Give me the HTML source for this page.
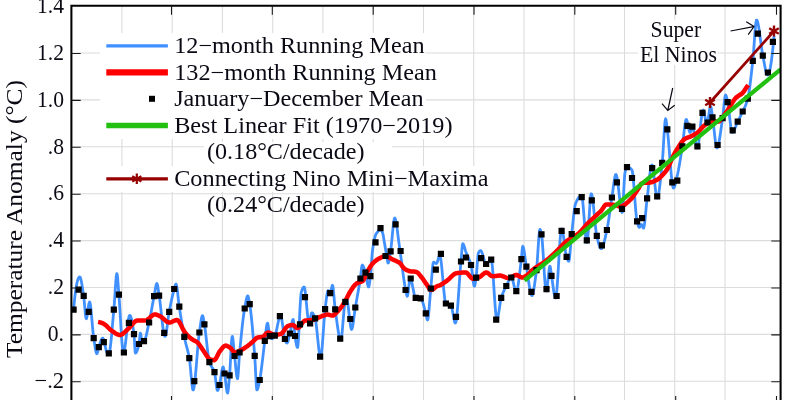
<!DOCTYPE html><html><head><meta charset="utf-8"><title>Global Temperature</title>
<style>html,body{margin:0;padding:0;background:#fff}svg{display:block}text{font-family:"Liberation Serif",serif;fill:#0a0a14}</style></head><body>
<svg width="800" height="400" viewBox="0 0 800 400">
<rect width="800" height="400" fill="#fff"/>
<path d="M121.9,5.75V400M172.2,5.75V400M222.4,5.75V400M272.7,5.75V400M322.9,5.75V400M373.2,5.75V400M423.5,5.75V400M473.7,5.75V400M524.0,5.75V400M574.2,5.75V400M624.5,5.75V400M674.7,5.75V400M725.0,5.75V400M71.4,53.0H780.6M71.4,99.9H780.6M71.4,146.8H780.6M71.4,193.7H780.6M71.4,240.6H780.6M71.4,287.5H780.6M71.4,334.4H780.6M71.4,381.2H780.6" stroke="#dcdcdc" stroke-width="1.1" fill="none"/>
<clipPath id="c"><rect x="71.4" y="5.75" width="709.2" height="400"/></clipPath>
<g clip-path="url(#c)">
<polyline points="73.6,309.6 74.0,305.2 74.4,301.1 74.8,297.4 75.2,294.0 75.6,291.0 76.0,288.3 76.4,285.9 76.8,283.8 77.2,282.0 77.6,280.5 78.0,279.2 78.4,278.3 78.8,277.6 79.2,277.1 79.6,276.9 80.0,277.0 80.4,277.7 80.8,279.0 81.2,280.6 81.6,282.7 82.0,285.0 82.4,287.5 82.8,290.2 83.2,292.9 83.6,295.5 84.0,298.6 84.4,302.8 84.8,307.6 85.2,312.1 85.6,315.9 86.0,318.3 86.4,318.7 86.8,317.5 87.2,315.5 87.6,312.7 88.0,309.8 88.4,306.8 88.8,304.3 89.2,302.6 89.6,301.9 90.0,302.6 90.4,304.7 90.8,307.8 91.2,311.6 91.6,316.1 92.0,320.8 92.4,325.5 92.8,330.0 93.2,334.0 93.6,337.3 94.0,339.9 94.4,342.5 94.8,345.2 95.2,347.7 95.6,350.0 96.0,351.8 96.4,353.1 96.8,353.7 97.2,353.4 97.6,352.1 98.0,350.3 98.4,348.4 98.8,347.0 99.2,345.8 99.6,344.6 100.0,343.3 100.4,342.2 100.8,341.1 101.2,340.1 101.6,339.2 102.0,338.6 102.4,338.2 102.8,338.1 103.2,338.5 103.6,339.4 104.0,340.7 104.4,342.3 104.8,344.1 105.2,346.0 105.6,347.9 106.0,349.6 106.4,351.2 106.8,352.3 107.2,353.1 107.6,353.3 108.0,353.4 108.4,353.4 108.8,353.4 109.2,353.0 109.6,351.6 110.0,349.5 110.4,346.6 110.8,343.2 111.2,339.3 111.6,335.1 112.0,330.6 112.4,326.0 112.8,321.3 113.2,316.7 113.6,312.3 114.0,308.1 114.4,302.9 114.8,296.8 115.2,290.5 115.6,284.4 116.0,279.2 116.4,275.4 116.8,273.6 117.2,274.4 117.6,277.7 118.0,282.8 118.4,288.4 118.8,293.8 119.2,298.8 119.6,304.6 120.0,311.0 120.4,317.7 120.8,324.5 121.2,331.1 121.6,337.3 122.0,342.8 122.4,347.3 122.8,350.5 123.2,352.3 123.6,352.4 124.0,351.6 124.4,350.0 124.8,347.9 125.2,345.2 125.6,342.2 126.0,338.9 126.4,335.4 126.8,331.9 127.2,328.5 127.6,325.2 128.0,322.2 128.4,319.6 128.8,317.5 129.2,316.1 129.6,315.4 130.0,315.4 130.4,315.9 130.8,316.8 131.2,318.1 131.6,319.7 132.0,321.6 132.4,323.7 132.8,326.1 133.2,328.7 133.6,331.4 134.0,334.3 134.4,339.7 134.8,346.9 135.2,352.3 135.6,353.1 136.0,352.8 136.4,352.2 136.8,351.4 137.2,350.4 137.6,349.2 138.0,347.9 138.4,346.4 138.8,344.8 139.2,342.8 139.6,338.9 140.0,334.9 140.4,333.1 140.8,334.3 141.2,337.1 141.6,340.1 142.0,341.8 142.4,341.9 142.8,341.8 143.2,341.7 143.6,341.5 144.0,341.3 144.4,340.9 144.8,340.2 145.2,339.2 145.6,338.0 146.0,336.5 146.4,334.9 146.8,333.1 147.2,331.3 147.6,329.4 148.0,327.4 148.4,325.5 148.8,323.7 149.2,321.9 149.6,320.1 150.0,318.1 150.4,316.1 150.8,313.9 151.2,311.8 151.6,309.6 152.0,307.4 152.4,305.1 152.8,302.9 153.2,300.8 153.6,298.7 154.0,296.7 154.4,294.7 154.8,292.3 155.2,289.9 155.6,287.6 156.0,285.7 156.4,284.2 156.8,283.5 157.2,283.9 157.6,285.4 158.0,287.8 158.4,290.6 158.8,293.5 159.2,296.0 159.6,298.7 160.0,301.8 160.4,305.2 160.8,308.8 161.2,312.5 161.6,316.2 162.0,319.9 162.4,323.4 162.8,326.7 163.2,329.6 163.6,332.2 164.0,334.2 164.4,335.6 164.8,336.4 165.2,336.4 165.6,335.5 166.0,333.9 166.4,331.7 166.8,329.0 167.2,326.1 167.6,323.0 168.0,319.9 168.4,316.9 168.8,314.1 169.2,311.8 169.6,309.8 170.0,307.7 170.4,305.7 170.8,303.7 171.2,301.7 171.6,299.8 172.0,297.9 172.4,296.1 172.8,294.4 173.2,292.8 173.6,291.2 174.0,289.8 174.4,288.4 174.8,286.9 175.2,285.5 175.6,284.4 176.0,284.0 176.4,284.7 176.8,286.5 177.2,289.2 177.6,292.4 178.0,296.1 178.4,299.8 178.8,303.2 179.2,306.3 179.6,308.9 180.0,311.5 180.4,314.1 180.8,316.6 181.2,319.2 181.6,321.7 182.0,324.1 182.4,326.5 182.8,328.9 183.2,331.2 183.6,333.4 184.0,335.5 184.4,337.5 184.8,339.3 185.2,341.0 185.6,342.6 186.0,344.2 186.4,345.6 186.8,347.1 187.2,348.6 187.6,350.1 188.0,351.8 188.4,353.5 188.8,355.4 189.2,357.6 189.6,360.1 190.0,363.6 190.4,367.7 190.8,372.2 191.2,376.7 191.6,381.0 192.0,384.8 192.4,387.7 192.8,389.6 193.2,390.0 193.6,389.2 194.0,387.5 194.4,385.0 194.8,381.8 195.2,378.1 195.6,373.9 196.0,369.3 196.4,364.5 196.8,359.5 197.2,354.6 197.6,349.7 198.0,345.1 198.4,340.8 198.8,337.0 199.2,333.7 199.6,331.0 200.0,328.1 200.4,325.2 200.8,322.4 201.2,319.9 201.6,317.8 202.0,316.3 202.4,315.6 202.8,316.0 203.2,317.4 203.6,319.5 204.0,322.0 204.4,324.4 204.8,326.8 205.2,329.7 205.6,332.9 206.0,336.4 206.4,340.0 206.8,343.6 207.2,347.2 207.6,350.7 208.0,353.9 208.4,356.8 208.8,359.3 209.2,361.2 209.6,362.6 210.0,363.7 210.4,364.6 210.8,365.4 211.2,366.1 211.6,366.7 212.0,367.3 212.4,367.8 212.8,368.5 213.2,369.2 213.6,370.0 214.0,370.9 214.4,372.0 214.8,373.7 215.2,376.3 215.6,379.4 216.0,382.8 216.4,385.9 216.8,388.5 217.2,390.2 217.6,390.6 218.0,390.1 218.4,389.0 218.8,387.6 219.2,386.1 219.6,384.6 220.0,382.7 220.4,380.4 220.8,377.8 221.2,375.0 221.6,372.4 222.0,370.1 222.4,368.3 222.8,367.2 223.2,367.0 223.6,368.2 224.0,370.3 224.4,372.8 224.8,375.1 225.2,378.0 225.6,381.4 226.0,384.8 226.4,388.0 226.8,390.6 227.2,392.4 227.6,393.1 228.0,391.9 228.4,388.8 228.8,384.5 229.2,379.6 229.6,375.0 230.0,369.2 230.4,362.0 230.8,354.2 231.2,346.7 231.6,340.7 232.0,337.0 232.4,336.4 232.8,338.2 233.2,341.5 233.6,345.7 234.0,350.2 234.4,354.3 234.8,357.8 235.2,361.7 235.6,365.8 236.0,369.9 236.4,373.5 236.8,376.5 237.2,378.3 237.6,378.6 238.0,376.0 238.4,370.9 238.8,364.5 239.2,358.1 239.6,352.7 240.0,348.6 240.4,344.4 240.8,340.3 241.2,336.3 241.6,332.4 242.0,328.6 242.4,324.9 242.8,321.5 243.2,318.2 243.6,315.2 244.0,312.4 244.4,309.9 244.8,307.7 245.2,305.5 245.6,303.2 246.0,301.1 246.4,299.2 246.8,297.6 247.2,296.5 247.6,295.9 248.0,296.1 248.4,297.2 248.8,299.0 249.2,301.3 249.6,303.6 250.0,306.0 250.4,308.8 250.8,312.0 251.2,315.5 251.6,319.3 252.0,323.4 252.4,327.7 252.8,332.3 253.2,337.0 253.6,341.9 254.0,346.8 254.4,351.9 254.8,357.0 255.2,363.9 255.6,372.1 256.0,380.2 256.4,386.6 256.8,389.8 257.2,389.8 257.6,389.1 258.0,387.9 258.4,386.4 258.8,384.6 259.2,382.7 259.6,380.7 260.0,378.7 260.4,376.3 260.8,373.5 261.2,370.5 261.6,367.3 262.0,364.0 262.4,360.8 262.8,357.6 263.2,354.2 263.6,350.7 264.0,347.2 264.4,343.8 264.8,340.7 265.2,337.5 265.6,334.1 266.0,330.6 266.4,327.5 266.8,325.0 267.2,323.5 267.6,323.2 268.0,324.5 268.4,327.1 268.8,330.3 269.2,333.3 269.6,335.6 270.0,336.6 270.4,337.3 270.8,337.9 271.2,338.4 271.6,338.7 272.0,338.7 272.4,338.6 272.8,338.3 273.2,337.9 273.6,337.5 274.0,336.9 274.4,336.3 274.8,335.7 275.2,334.9 275.6,333.8 276.0,332.3 276.4,330.7 276.8,328.9 277.2,327.0 277.6,325.0 278.0,323.1 278.4,321.3 278.8,319.6 279.2,318.1 279.6,316.9 280.0,316.0 280.4,315.6 280.8,315.6 281.2,316.5 281.6,318.2 282.0,320.5 282.4,323.2 282.8,326.1 283.2,329.1 283.6,332.1 284.0,334.7 284.4,337.0 284.8,338.7 285.2,339.9 285.6,341.0 286.0,342.0 286.4,342.7 286.8,343.1 287.2,342.9 287.6,342.3 288.0,341.2 288.4,339.8 288.8,338.2 289.2,336.5 289.6,334.8 290.0,333.2 290.4,331.4 290.8,329.2 291.2,326.9 291.6,324.5 292.0,322.4 292.4,320.7 292.8,319.7 293.2,319.5 293.6,321.7 294.0,325.9 294.4,330.7 294.8,334.8 295.2,337.5 295.6,340.0 296.0,342.4 296.4,344.5 296.8,346.2 297.2,347.2 297.6,347.4 298.0,345.0 298.4,340.1 298.8,333.2 299.2,325.2 299.6,316.8 300.0,308.6 300.4,301.4 300.8,295.9 301.2,292.7 301.6,291.4 302.0,290.2 302.4,289.1 302.8,288.3 303.2,287.6 303.6,287.1 304.0,286.9 304.4,287.3 304.8,288.9 305.2,291.5 305.6,294.9 306.0,298.8 306.4,303.1 306.8,307.4 307.2,311.6 307.6,315.4 308.0,318.7 308.4,321.0 308.8,322.3 309.2,322.4 309.6,321.4 310.0,319.8 310.4,317.9 310.8,315.9 311.2,314.2 311.6,313.0 312.0,312.8 312.4,312.9 312.8,313.4 313.2,314.0 313.6,314.7 314.0,315.6 314.4,316.6 314.8,317.6 315.2,318.7 315.6,320.5 316.0,323.0 316.4,326.0 316.8,329.6 317.2,333.4 317.6,337.4 318.0,341.4 318.4,345.2 318.8,348.8 319.2,351.9 319.6,354.5 320.0,356.4 320.4,357.4 320.8,357.3 321.2,355.7 321.6,352.8 322.0,348.9 322.4,344.1 322.8,338.8 323.2,333.1 323.6,327.3 324.0,321.8 324.4,316.7 324.8,312.2 325.2,308.7 325.6,305.4 326.0,302.0 326.4,298.7 326.8,295.7 327.2,293.2 327.6,291.5 328.0,290.6 328.4,290.7 328.8,291.3 329.2,292.0 329.6,292.6 330.0,293.0 330.4,292.9 330.8,291.7 331.2,289.9 331.6,287.9 332.0,286.2 332.4,285.3 332.8,285.9 333.2,288.3 333.6,292.1 334.0,296.7 334.4,301.4 334.8,305.8 335.2,309.3 335.6,312.2 336.0,315.1 336.4,318.1 336.8,321.1 337.2,324.0 337.6,326.8 338.0,329.5 338.4,332.0 338.8,334.3 339.2,336.2 339.6,337.8 340.0,339.0 340.4,339.7 340.8,340.0 341.2,339.2 341.6,337.0 342.0,333.6 342.4,329.4 342.8,324.7 343.2,319.7 343.6,314.9 344.0,310.4 344.4,306.5 344.8,303.6 345.2,302.0 345.6,301.4 346.0,301.0 346.4,300.6 346.8,300.5 347.2,301.1 347.6,302.6 348.0,305.0 348.4,308.0 348.8,311.4 349.2,315.0 349.6,318.5 350.0,321.9 350.4,324.9 350.8,327.3 351.2,328.8 351.6,329.4 352.0,328.9 352.4,327.6 352.8,325.6 353.2,323.1 353.6,320.2 354.0,317.1 354.4,314.0 354.8,311.0 355.2,308.3 355.6,306.0 356.0,303.7 356.4,301.5 356.8,299.2 357.2,297.0 357.6,294.8 358.0,292.6 358.4,290.3 358.8,288.1 359.2,285.7 359.6,283.3 360.0,280.8 360.4,278.3 360.8,275.0 361.2,271.2 361.6,267.8 362.0,265.5 362.4,265.0 362.8,265.4 363.2,266.1 363.6,267.0 364.0,268.2 364.4,269.4 364.8,270.8 365.2,272.1 365.6,273.5 366.0,275.3 366.4,277.6 366.8,280.0 367.2,282.3 367.6,284.4 368.0,286.0 368.4,286.9 368.8,286.8 369.2,285.3 369.6,282.8 370.0,279.7 370.4,276.5 370.8,272.6 371.2,267.4 371.6,261.7 372.0,256.2 372.4,251.7 372.8,248.6 373.2,245.9 373.6,243.4 374.0,241.2 374.4,239.2 374.8,237.5 375.2,236.1 375.6,235.0 376.0,234.2 376.4,233.5 376.8,232.9 377.2,232.4 377.6,231.9 378.0,231.4 378.4,230.9 378.8,230.3 379.2,229.8 379.6,229.4 380.0,229.3 380.4,229.4 380.8,229.7 381.2,230.2 381.6,230.8 382.0,231.5 382.4,232.3 382.8,233.4 383.2,235.3 383.6,237.6 384.0,240.1 384.4,242.5 384.8,244.8 385.2,247.2 385.6,249.6 386.0,252.0 386.4,254.3 386.8,256.6 387.2,259.2 387.6,261.7 388.0,263.0 388.4,262.8 388.8,261.6 389.2,259.7 389.6,257.3 390.0,254.7 390.4,252.2 390.8,249.6 391.2,246.4 391.6,242.6 392.0,238.5 392.4,234.2 392.8,230.1 393.2,226.2 393.6,222.9 394.0,220.3 394.4,218.6 394.8,218.1 395.2,218.6 395.6,219.8 396.0,221.5 396.4,223.8 396.8,226.4 397.2,229.4 397.6,232.5 398.0,235.7 398.4,238.9 398.8,242.0 399.2,244.9 399.6,247.6 400.0,250.3 400.4,253.2 400.8,256.2 401.2,259.2 401.6,262.3 402.0,265.4 402.4,268.5 402.8,271.6 403.2,274.6 403.6,277.5 404.0,280.3 404.4,283.0 404.8,285.5 405.2,287.7 405.6,289.8 406.0,291.8 406.4,293.8 406.8,295.5 407.2,296.2 407.6,295.6 408.0,293.4 408.4,290.3 408.8,286.7 409.2,283.2 409.6,280.4 410.0,278.7 410.4,278.6 410.8,279.1 411.2,280.1 411.6,281.5 412.0,283.2 412.4,285.2 412.8,287.2 413.2,289.3 413.6,291.3 414.0,293.2 414.4,294.9 414.8,296.3 415.2,297.2 415.6,297.8 416.0,297.9 416.4,297.9 416.8,298.0 417.2,298.0 417.6,298.1 418.0,298.1 418.4,298.1 418.8,298.1 419.2,298.2 419.6,298.2 420.0,298.3 420.4,298.3 420.8,298.4 421.2,298.7 421.6,299.3 422.0,300.1 422.4,301.1 422.8,302.4 423.2,303.7 423.6,305.2 424.0,306.7 424.4,308.3 424.8,309.8 425.2,311.3 425.6,312.8 426.0,314.3 426.4,316.3 426.8,318.2 427.2,319.6 427.6,319.9 428.0,318.7 428.4,316.0 428.8,312.2 429.2,307.6 429.6,302.7 430.0,297.6 430.4,292.8 430.8,288.5 431.2,284.2 431.6,279.1 432.0,274.0 432.4,269.2 432.8,265.3 433.2,262.8 433.6,262.2 434.0,262.3 434.4,262.5 434.8,262.8 435.2,263.1 435.6,263.3 436.0,263.5 436.4,263.5 436.8,263.1 437.2,262.2 437.6,261.0 438.0,259.6 438.4,258.3 438.8,257.1 439.2,256.1 439.6,255.6 440.0,255.8 440.4,257.0 440.8,259.2 441.2,262.1 441.6,265.7 442.0,269.8 442.4,274.1 442.8,278.7 443.2,283.3 443.6,287.8 444.0,292.0 444.4,295.7 444.8,298.9 445.2,301.4 445.6,303.0 446.0,303.6 446.4,303.8 446.8,304.0 447.2,304.2 447.6,304.3 448.0,304.5 448.4,304.5 448.8,304.6 449.2,304.8 449.6,304.9 450.0,305.0 450.4,305.3 450.8,305.5 451.2,306.0 451.6,307.0 452.0,308.6 452.4,310.6 452.8,312.7 453.2,315.0 453.6,317.2 454.0,319.3 454.4,321.0 454.8,322.3 455.2,323.0 455.6,322.9 456.0,321.7 456.4,319.4 456.8,316.2 457.2,312.1 457.6,307.5 458.0,302.3 458.4,296.7 458.8,290.9 459.2,285.0 459.6,279.2 460.0,273.6 460.4,268.3 460.8,263.5 461.2,259.1 461.6,253.8 462.0,248.7 462.4,245.0 462.8,243.8 463.2,244.0 463.6,244.7 464.0,245.7 464.4,246.9 464.8,248.3 465.2,249.7 465.6,251.1 466.0,252.3 466.4,253.4 466.8,254.3 467.2,255.2 467.6,256.1 468.0,256.9 468.4,257.8 468.8,258.7 469.2,259.6 469.6,260.6 470.0,261.6 470.4,262.8 470.8,264.1 471.2,265.6 471.6,268.0 472.0,271.0 472.4,274.3 472.8,277.8 473.2,281.0 473.6,283.7 474.0,285.6 474.4,286.2 474.8,285.5 475.2,283.6 475.6,281.1 476.0,278.3 476.4,274.9 476.8,270.1 477.2,264.5 477.6,259.3 478.0,255.1 478.4,253.0 478.8,252.3 479.2,251.6 479.6,251.1 480.0,250.8 480.4,250.6 480.8,250.7 481.2,251.0 481.6,251.8 482.0,252.7 482.4,253.9 482.8,255.3 483.2,256.7 483.6,258.1 484.0,259.5 484.4,260.9 484.8,262.0 485.2,263.0 485.6,263.6 486.0,264.0 486.4,264.0 486.8,263.8 487.2,263.5 487.6,263.1 488.0,262.7 488.4,262.2 488.8,261.7 489.2,261.2 489.6,260.7 490.0,260.3 490.4,260.0 490.8,259.8 491.2,259.8 491.6,260.7 492.0,263.1 492.4,266.8 492.8,271.5 493.2,276.9 493.6,282.8 494.0,289.1 494.4,295.3 494.8,301.3 495.2,306.8 495.6,311.7 496.0,315.5 496.4,318.2 496.8,319.4 497.2,319.3 497.6,318.3 498.0,316.7 498.4,314.6 498.8,312.2 499.2,309.6 499.6,306.9 500.0,304.2 500.4,301.8 500.8,299.6 501.2,298.0 501.6,296.8 502.0,295.6 502.4,294.5 502.8,293.4 503.2,292.4 503.6,291.5 504.0,290.6 504.4,289.7 504.8,288.9 505.2,288.1 505.6,287.3 506.0,286.5 506.4,285.7 506.8,284.9 507.2,284.0 507.6,283.1 508.0,282.2 508.4,281.3 508.8,280.5 509.2,279.7 509.6,279.0 510.0,278.4 510.4,278.0 510.8,277.6 511.2,277.5 511.6,277.7 512.0,278.3 512.4,279.3 512.8,280.6 513.2,282.1 513.6,283.8 514.0,285.5 514.4,287.1 514.8,288.6 515.2,289.9 515.6,290.8 516.0,291.4 516.4,291.5 516.8,290.9 517.2,289.7 517.6,288.0 518.0,285.8 518.4,283.2 518.8,280.4 519.2,277.3 519.6,274.0 520.0,270.6 520.4,267.1 520.8,263.7 521.2,260.5 521.6,256.9 522.0,252.0 522.4,247.8 522.8,246.3 523.2,246.8 523.6,248.2 524.0,250.3 524.4,252.8 524.8,255.6 525.2,258.6 525.6,261.5 526.0,264.3 526.4,266.7 526.8,269.0 527.2,271.5 527.6,274.2 528.0,277.0 528.4,279.8 528.8,282.5 529.2,285.2 529.6,287.7 530.0,290.0 530.4,291.9 530.8,293.5 531.2,294.7 531.6,295.4 532.0,295.6 532.4,295.1 532.8,294.1 533.2,292.6 533.6,290.7 534.0,288.3 534.4,285.7 534.8,282.9 535.2,279.9 535.6,276.8 536.0,273.7 536.4,270.6 536.8,266.9 537.2,262.0 537.6,256.1 538.0,249.9 538.4,243.8 538.8,238.2 539.2,233.6 539.6,230.5 540.0,229.4 540.4,229.9 540.8,231.2 541.2,233.0 541.6,235.0 542.0,238.2 542.4,242.7 542.8,248.3 543.2,254.5 543.6,261.1 544.0,267.8 544.4,274.1 544.8,279.9 545.2,284.8 545.6,288.5 546.0,290.6 546.4,290.9 546.8,289.6 547.2,287.0 547.6,283.7 548.0,279.9 548.4,275.9 548.8,272.2 549.2,269.1 549.6,267.0 550.0,266.2 550.4,267.4 550.8,270.2 551.2,273.4 551.6,276.2 552.0,278.8 552.4,281.6 552.8,284.5 553.2,287.4 553.6,290.2 554.0,292.7 554.4,294.9 554.8,296.6 555.2,297.7 555.6,298.1 556.0,297.2 556.4,294.7 556.8,290.9 557.2,286.0 557.6,280.2 558.0,273.8 558.4,267.0 558.8,260.1 559.2,253.3 559.6,246.9 560.0,241.1 560.4,236.2 560.8,232.4 561.2,229.9 561.6,229.0 562.0,229.4 562.4,230.6 562.8,232.4 563.2,234.6 563.6,237.3 564.0,240.2 564.4,243.2 564.8,246.3 565.2,249.2 565.6,251.9 566.0,254.2 566.4,256.0 566.8,257.3 567.2,258.4 567.6,259.5 568.0,260.5 568.4,261.1 568.8,261.2 569.2,260.0 569.6,257.2 570.0,253.2 570.4,248.5 570.8,243.5 571.2,238.8 571.6,234.7 572.0,231.2 572.4,227.5 572.8,223.6 573.2,219.8 573.6,216.1 574.0,212.6 574.4,209.5 574.8,206.9 575.2,204.8 575.6,203.5 576.0,202.6 576.4,201.7 576.8,200.8 577.2,200.0 577.6,199.3 578.0,198.6 578.4,198.0 578.8,197.4 579.2,197.0 579.6,196.5 580.0,196.2 580.4,195.9 580.8,195.7 581.2,195.6 581.6,195.6 582.0,196.7 582.4,199.1 582.8,202.4 583.2,206.6 583.6,211.4 584.0,216.4 584.4,221.7 584.8,226.7 585.2,231.5 585.6,235.7 586.0,239.0 586.4,241.4 586.8,242.5 587.2,241.8 587.6,239.1 588.0,234.7 588.4,229.1 588.8,222.7 589.2,216.0 589.6,209.5 590.0,203.5 590.4,198.6 590.8,195.2 591.2,193.8 591.6,194.1 592.0,195.5 592.4,197.6 592.8,200.4 593.2,203.8 593.6,207.5 594.0,211.6 594.4,215.7 594.8,219.9 595.2,223.9 595.6,227.6 596.0,230.9 596.4,233.7 596.8,235.8 597.2,237.5 597.6,239.1 598.0,240.8 598.4,242.3 598.8,243.8 599.2,245.1 599.6,246.3 600.0,247.3 600.4,248.1 600.8,248.5 601.2,248.7 601.6,248.6 602.0,248.2 602.4,247.6 602.8,246.6 603.2,245.5 603.6,244.2 604.0,242.8 604.4,241.2 604.8,239.5 605.2,237.7 605.6,235.9 606.0,234.0 606.4,232.2 606.8,230.4 607.2,228.5 607.6,226.4 608.0,224.1 608.4,221.6 608.8,219.0 609.2,216.2 609.6,213.4 610.0,210.5 610.4,207.7 610.8,204.9 611.2,202.1 611.6,199.5 612.0,197.0 612.4,194.3 612.8,191.3 613.2,188.3 613.6,185.2 614.0,182.3 614.4,179.6 614.8,177.4 615.2,175.7 615.6,174.6 616.0,174.4 616.4,175.1 616.8,176.5 617.2,178.6 617.6,181.2 618.0,184.3 618.4,187.6 618.8,191.2 619.2,194.8 619.6,198.4 620.0,201.8 620.4,204.9 620.8,207.7 621.2,209.9 621.6,211.5 622.0,212.4 622.4,212.0 622.8,208.2 623.2,201.8 623.6,194.0 624.0,186.0 624.4,178.8 624.8,173.8 625.2,171.6 625.6,170.1 626.0,168.7 626.4,167.7 626.8,167.2 627.2,167.1 627.6,167.2 628.0,167.3 628.4,167.4 628.8,167.5 629.2,167.7 629.6,167.9 630.0,168.1 630.4,168.4 630.8,168.7 631.2,169.1 631.6,169.6 632.0,170.2 632.4,171.7 632.8,174.5 633.2,178.1 633.6,182.5 634.0,187.5 634.4,192.8 634.8,198.2 635.2,203.6 635.6,208.6 636.0,213.1 636.4,217.0 636.8,219.9 637.2,221.8 637.6,223.3 638.0,224.8 638.4,226.0 638.8,226.9 639.2,227.4 639.6,227.4 640.0,226.7 640.4,225.8 640.8,224.9 641.2,224.4 641.6,224.6 642.0,225.4 642.4,226.3 642.8,227.2 643.2,227.9 643.6,228.1 644.0,227.0 644.4,224.8 644.8,221.7 645.2,217.9 645.6,213.7 646.0,209.3 646.4,205.1 646.8,201.2 647.2,197.9 647.6,194.6 648.0,191.1 648.4,187.4 648.8,183.7 649.2,180.0 649.6,176.5 650.0,173.2 650.4,170.4 650.8,168.0 651.2,166.3 651.6,165.2 652.0,165.0 652.4,165.8 652.8,167.5 653.2,169.9 653.6,172.9 654.0,176.3 654.4,179.9 654.8,183.6 655.2,187.2 655.6,190.5 656.0,193.4 656.4,195.8 656.8,197.3 657.2,198.0 657.6,197.7 658.0,196.7 658.4,195.2 658.8,193.0 659.2,190.4 659.6,187.4 660.0,184.0 660.4,180.5 660.8,176.7 661.2,172.8 661.6,168.9 662.0,165.0 662.4,161.1 662.8,155.8 663.2,149.4 663.6,142.4 664.0,135.4 664.4,129.0 664.8,123.7 665.2,120.1 665.6,118.8 666.0,119.8 666.4,122.3 666.8,125.6 667.2,129.0 667.6,132.2 668.0,135.9 668.4,140.2 668.8,144.8 669.2,149.7 669.6,154.7 670.0,159.8 670.4,164.8 670.8,169.5 671.2,174.0 671.6,178.1 672.0,181.6 672.4,184.4 672.8,186.6 673.2,187.8 673.6,188.1 674.0,187.7 674.4,187.0 674.8,185.9 675.2,184.6 675.6,183.0 676.0,181.3 676.4,179.5 676.8,177.6 677.2,175.8 677.6,174.1 678.0,172.2 678.4,170.3 678.8,168.1 679.2,165.9 679.6,163.6 680.0,161.2 680.4,158.7 680.8,156.2 681.2,153.6 681.6,151.0 682.0,148.5 682.4,145.9 682.8,143.0 683.2,139.7 683.6,136.1 684.0,132.4 684.4,128.9 684.8,125.6 685.2,122.9 685.6,120.8 686.0,119.6 686.4,119.5 686.8,120.2 687.2,121.5 687.6,123.3 688.0,125.3 688.4,127.4 688.8,129.3 689.2,131.0 689.6,132.1 690.0,132.5 690.4,132.1 690.8,131.0 691.2,129.6 691.6,128.2 692.0,127.1 692.4,126.6 692.8,127.0 693.2,128.1 693.6,129.8 694.0,131.9 694.4,134.3 694.8,136.9 695.2,139.5 695.6,142.0 696.0,144.3 696.4,146.1 696.8,147.4 697.2,148.0 697.6,147.7 698.0,146.5 698.4,144.4 698.8,141.7 699.2,138.4 699.6,134.8 700.0,131.0 700.4,127.0 700.8,123.2 701.2,119.6 701.6,116.3 702.0,113.6 702.4,111.5 702.8,110.3 703.2,110.0 703.6,110.6 704.0,111.9 704.4,113.6 704.8,115.7 705.2,117.8 705.6,119.9 706.0,121.7 706.4,123.1 706.8,123.9 707.2,123.8 707.6,122.7 708.0,120.7 708.4,118.0 708.8,115.1 709.2,112.2 709.6,109.6 710.0,107.6 710.4,106.4 710.8,106.5 711.2,108.0 711.6,110.6 712.0,113.6 712.4,116.5 712.8,119.1 713.2,122.2 713.6,125.6 714.0,129.2 714.4,132.9 714.8,136.4 715.2,139.8 715.6,142.7 716.0,145.2 716.4,146.9 716.8,147.9 717.2,147.9 717.6,147.4 718.0,146.4 718.4,145.0 718.8,143.2 719.2,141.1 719.6,138.8 720.0,136.2 720.4,133.5 720.8,130.7 721.2,127.8 721.6,124.9 722.0,122.1 722.4,119.4 722.8,116.7 723.2,113.2 723.6,109.2 724.0,105.1 724.4,101.3 724.8,98.0 725.2,95.8 725.6,95.0 726.0,95.4 726.4,96.6 726.8,98.2 727.2,100.1 727.6,102.0 728.0,104.0 728.4,106.7 728.8,109.8 729.2,113.3 729.6,116.8 730.0,120.4 730.4,123.7 730.8,126.8 731.2,129.3 731.6,131.2 732.0,132.3 732.4,132.5 732.8,132.3 733.2,131.9 733.6,131.3 734.0,130.6 734.4,129.8 734.8,128.8 735.2,127.8 735.6,126.8 736.0,125.7 736.4,124.7 736.8,123.6 737.2,122.7 737.6,121.8 738.0,121.0 738.4,120.2 738.8,119.4 739.2,118.6 739.6,117.9 740.0,117.1 740.4,116.3 740.8,115.5 741.2,114.7 741.6,113.9 742.0,113.1 742.4,112.2 742.8,111.3 743.2,110.5 743.6,109.6 744.0,108.8 744.4,107.9 744.8,107.1 745.2,106.2 745.6,105.2 746.0,104.2 746.4,103.1 746.8,102.0 747.2,100.7 747.6,99.3 748.0,97.7 748.4,95.8 748.8,93.5 749.2,91.0 749.6,88.2 750.0,85.2 750.4,81.9 750.8,78.6 751.2,75.1 751.6,71.6 752.0,68.0 752.4,64.4 752.8,60.8 753.2,56.6 753.6,51.6 754.0,46.1 754.4,40.3 754.8,34.7 755.2,29.6 755.6,25.2 756.0,22.0 756.4,20.2 756.8,20.1 757.2,20.7 757.6,21.8 758.0,23.4 758.4,25.4 758.8,27.7 759.2,30.3 759.6,33.2 760.0,36.1 760.4,39.2 760.8,42.2 761.2,45.2 761.6,48.1 762.0,50.8 762.4,53.2 762.8,55.4 763.2,57.4 763.6,59.5 764.0,61.7 764.4,63.9 764.8,66.1 765.2,68.2 765.6,70.1 766.0,71.8 766.4,73.2 766.8,74.2 767.2,74.9 767.6,75.0 768.0,74.8 768.4,74.2 768.8,73.4 769.2,72.3 769.6,70.9 770.0,69.2 770.4,67.2 770.8,64.9 771.2,62.3 771.6,59.4 772.0,56.2 772.4,52.8 772.8,49.0 773.2,45.0 773.6,40.6 774.0,36.0" fill="none" stroke="#4090ff" stroke-width="2.8" stroke-linejoin="round"/>
<polyline points="98.1,321.9 99.1,322.1 100.1,322.4 101.1,322.7 102.1,323.1 103.1,323.6 104.1,324.1 105.1,324.7 106.1,325.5 107.1,326.4 108.1,327.5 109.1,328.5 110.1,329.5 111.1,330.3 112.1,331.1 113.1,331.7 114.1,332.4 115.1,333.1 116.1,333.7 117.1,334.2 118.1,334.6 119.1,334.9 120.1,335.0 121.1,334.8 122.1,334.3 123.1,333.6 124.1,332.7 125.1,331.8 126.1,330.8 127.1,329.8 128.1,328.9 129.1,328.0 130.1,326.9 131.1,325.7 132.1,324.5 133.1,323.4 134.1,322.4 135.1,321.5 136.1,320.9 137.1,320.5 138.1,320.5 139.1,320.5 140.1,320.5 141.1,320.5 142.1,320.6 143.1,320.6 144.1,320.6 145.1,320.6 146.1,320.4 147.1,319.9 148.1,319.2 149.1,318.3 150.1,317.4 151.1,316.5 152.1,315.7 153.1,315.0 154.1,314.5 155.1,314.4 156.1,314.5 157.1,314.9 158.1,315.3 159.1,315.8 160.1,316.3 161.1,316.9 162.1,317.6 163.1,318.5 164.1,319.4 165.1,320.3 166.1,321.1 167.1,321.8 168.1,322.2 169.1,322.5 170.1,322.4 171.1,322.2 172.1,321.8 173.1,321.3 174.1,320.8 175.1,320.4 176.1,320.1 177.1,320.0 178.1,320.6 179.1,321.7 180.1,323.4 181.1,325.3 182.1,327.4 183.1,329.4 184.1,331.2 185.1,332.6 186.1,333.8 187.1,334.9 188.1,336.0 189.1,336.9 190.1,337.8 191.1,338.6 192.1,339.3 193.1,339.9 194.1,340.4 195.1,340.9 196.1,341.5 197.1,342.2 198.1,343.1 199.1,344.3 200.1,345.7 201.1,347.2 202.1,348.8 203.1,350.3 204.1,351.7 205.1,353.2 206.1,354.8 207.1,356.4 208.1,357.7 209.1,358.8 210.1,359.3 211.1,359.7 212.1,360.0 213.1,360.1 214.1,360.2 215.1,359.6 216.1,358.2 217.1,356.3 218.1,354.2 219.1,352.3 220.1,350.9 221.1,349.6 222.1,348.3 223.1,347.1 224.1,346.2 225.1,345.7 226.1,345.6 227.1,345.9 228.1,346.4 229.1,347.0 230.1,347.6 231.1,348.5 232.1,349.8 233.1,351.2 234.1,352.2 235.1,352.5 236.1,352.4 237.1,352.1 238.1,351.6 239.1,351.1 240.1,350.6 241.1,350.1 242.1,349.6 243.1,349.0 244.1,348.4 245.1,347.7 246.1,347.0 247.1,346.3 248.1,345.6 249.1,344.8 250.1,344.0 251.1,343.1 252.1,342.3 253.1,341.4 254.1,340.4 255.1,339.3 256.1,338.3 257.1,337.6 258.1,337.4 259.1,337.3 260.1,337.2 261.1,337.1 262.1,337.0 263.1,336.7 264.1,335.8 265.1,334.7 266.1,333.6 267.1,332.8 268.1,332.5 269.1,332.7 270.1,333.0 271.1,333.5 272.1,334.1 273.1,334.5 274.1,334.9 275.1,335.0 276.1,335.0 277.1,334.8 278.1,334.6 279.1,334.4 280.1,334.1 281.1,333.8 282.1,333.2 283.1,332.0 284.1,330.5 285.1,328.9 286.1,327.5 287.1,326.5 288.1,326.0 289.1,325.6 290.1,325.3 291.1,325.1 292.1,325.0 293.1,325.1 294.1,325.7 295.1,326.6 296.1,327.5 297.1,328.0 298.1,328.0 299.1,327.3 300.1,326.1 301.1,324.7 302.1,323.3 303.1,322.0 304.1,321.0 305.1,320.6 306.1,320.5 307.1,320.4 308.1,320.3 309.1,320.3 310.1,320.2 311.1,320.1 312.1,320.1 313.1,319.9 314.1,319.6 315.1,319.2 316.1,318.7 317.1,318.2 318.1,317.7 319.1,317.3 320.1,316.9 321.1,316.5 322.1,316.1 323.1,315.7 324.1,315.3 325.1,315.0 326.1,314.7 327.1,314.6 328.1,314.6 329.1,314.8 330.1,315.1 331.1,315.4 332.1,315.6 333.1,315.5 334.1,314.9 335.1,314.1 336.1,313.0 337.1,311.9 338.1,310.9 339.1,309.8 340.1,308.6 341.1,307.4 342.1,306.0 343.1,304.5 344.1,303.0 345.1,301.3 346.1,299.5 347.1,297.5 348.1,295.5 349.1,293.5 350.1,291.8 351.1,290.3 352.1,288.7 353.1,287.2 354.1,285.9 355.1,284.7 356.1,283.9 357.1,283.2 358.1,282.8 359.1,282.5 360.1,282.1 361.1,281.8 362.1,281.3 363.1,280.6 364.1,279.1 365.1,276.8 366.1,274.2 367.1,272.1 368.1,270.3 369.1,268.6 370.1,267.0 371.1,265.5 372.1,264.2 373.1,263.1 374.1,262.1 375.1,261.3 376.1,260.4 377.1,259.7 378.1,259.1 379.1,258.6 380.1,258.0 381.1,257.5 382.1,257.1 383.1,256.7 384.1,256.4 385.1,256.2 386.1,256.2 387.1,256.5 388.1,256.9 389.1,257.4 390.1,258.0 391.1,258.6 392.1,259.2 393.1,259.7 394.1,260.1 395.1,260.5 396.1,260.9 397.1,261.4 398.1,261.9 399.1,262.5 400.1,263.2 401.1,264.4 402.1,266.0 403.1,267.4 404.1,268.4 405.1,269.1 406.1,269.7 407.1,270.2 408.1,270.7 409.1,271.0 410.1,271.3 411.1,271.4 412.1,271.5 413.1,271.6 414.1,271.6 415.1,271.7 416.1,271.9 417.1,272.3 418.1,273.1 419.1,274.2 420.1,275.5 421.1,276.7 422.1,277.9 423.1,279.3 424.1,280.7 425.1,282.2 426.1,283.6 427.1,285.0 428.1,286.6 429.1,288.2 430.1,289.4 431.1,290.0 432.1,289.8 433.1,289.2 434.1,288.4 435.1,287.5 436.1,286.7 437.1,286.2 438.1,285.9 439.1,285.6 440.1,285.2 441.1,284.6 442.1,284.1 443.1,283.4 444.1,282.7 445.1,282.0 446.1,281.4 447.1,280.6 448.1,279.8 449.1,278.8 450.1,277.9 451.1,276.9 452.1,275.9 453.1,275.1 454.1,274.3 455.1,273.7 456.1,273.3 457.1,273.1 458.1,273.0 459.1,272.9 460.1,272.8 461.1,272.7 462.1,272.6 463.1,272.6 464.1,272.5 465.1,272.5 466.1,272.6 467.1,273.1 468.1,274.1 469.1,275.3 470.1,276.6 471.1,277.7 472.1,278.4 473.1,278.8 474.1,278.7 475.1,278.5 476.1,278.3 477.1,278.0 478.1,277.7 479.1,277.4 480.1,276.8 481.1,276.0 482.1,275.1 483.1,274.2 484.1,273.4 485.1,272.8 486.1,272.5 487.1,272.7 488.1,273.3 489.1,274.1 490.1,275.0 491.1,275.8 492.1,276.2 493.1,276.2 494.1,276.2 495.1,276.1 496.1,275.9 497.1,275.8 498.1,275.7 499.1,275.6 500.1,275.6 501.1,275.7 502.1,276.0 503.1,276.3 504.1,276.7 505.1,277.2 506.1,277.6 507.1,277.9 508.1,278.1 509.1,278.1 510.1,277.8 511.1,277.4 512.1,276.8 513.1,276.2 514.1,275.6 515.1,275.2 516.1,275.0 517.1,275.1 518.1,275.5 519.1,276.1 520.1,276.7 521.1,277.2 522.1,277.5 523.1,277.4 524.1,277.1 525.1,276.6 526.1,275.9 527.1,275.1 528.1,274.2 529.1,273.3 530.1,272.4 531.1,271.4 532.1,270.4 533.1,269.5 534.1,268.7 535.1,268.0 536.1,267.3 537.1,266.7 538.1,266.0 539.1,265.4 540.1,264.8 541.1,264.2 542.1,263.5 543.1,262.9 544.1,262.2 545.1,261.4 546.1,260.6 547.1,259.8 548.1,259.0 549.1,258.1 550.1,257.2 551.1,256.3 552.1,255.4 553.1,254.5 554.1,253.5 555.1,252.6 556.1,251.6 557.1,250.6 558.1,249.6 559.1,248.5 560.1,247.5 561.1,246.4 562.1,245.4 563.1,244.4 564.1,243.4 565.1,242.5 566.1,241.6 567.1,240.8 568.1,240.1 569.1,239.5 570.1,238.8 571.1,238.2 572.1,237.6 573.1,237.1 574.1,236.5 575.1,235.8 576.1,235.2 577.1,234.5 578.1,233.7 579.1,232.9 580.1,232.0 581.1,230.9 582.1,229.8 583.1,228.6 584.1,227.4 585.1,226.3 586.1,225.1 587.1,224.0 588.1,223.0 589.1,222.0 590.1,221.1 591.1,220.1 592.1,219.2 593.1,218.3 594.1,217.4 595.1,216.4 596.1,215.5 597.1,214.6 598.1,213.6 599.1,212.7 600.1,211.8 601.1,210.8 602.1,209.5 603.1,207.9 604.1,206.4 605.1,205.1 606.1,204.5 607.1,204.5 608.1,204.5 609.1,204.6 610.1,204.6 611.1,204.7 612.1,204.7 613.1,204.8 614.1,204.9 615.1,205.0 616.1,205.3 617.1,205.6 618.1,206.1 619.1,206.4 620.1,206.5 621.1,206.4 622.1,206.1 623.1,205.6 624.1,205.1 625.1,204.4 626.1,203.6 627.1,202.7 628.1,201.8 629.1,200.8 630.1,199.9 631.1,198.9 632.1,197.8 633.1,196.6 634.1,195.1 635.1,193.6 636.1,192.1 637.1,190.6 638.1,189.1 639.1,187.3 640.1,185.5 641.1,184.0 642.1,183.1 643.1,182.9 644.1,182.8 645.1,182.8 646.1,182.7 647.1,182.7 648.1,182.7 649.1,182.6 650.1,182.5 651.1,182.3 652.1,182.0 653.1,181.7 654.1,181.3 655.1,180.8 656.1,180.3 657.1,179.7 658.1,179.1 659.1,178.4 660.1,177.5 661.1,176.5 662.1,175.4 663.1,174.4 664.1,173.3 665.1,172.1 666.1,170.8 667.1,169.4 668.1,167.7 669.1,165.5 670.1,163.1 671.1,160.7 672.1,158.3 673.1,156.3 674.1,154.4 675.1,152.5 676.1,150.8 677.1,149.2 678.1,147.6 679.1,146.0 680.1,144.4 681.1,142.9 682.1,141.6 683.1,140.4 684.1,139.4 685.1,138.7 686.1,138.2 687.1,137.8 688.1,137.4 689.1,137.1 690.1,136.7 691.1,136.3 692.1,135.8 693.1,135.3 694.1,134.7 695.1,134.1 696.1,133.5 697.1,132.8 698.1,132.0 699.1,131.1 700.1,130.0 701.1,128.8 702.1,127.7 703.1,126.6 704.1,125.7 705.1,124.9 706.1,124.3 707.1,123.6 708.1,123.0 709.1,122.5 710.1,122.0 711.1,121.7 712.1,121.5 713.1,121.5 714.1,121.5 715.1,121.5 716.1,121.5 717.1,121.5 718.1,121.5 719.1,121.4 720.1,120.6 721.1,119.2 722.1,117.9 723.1,116.6 724.1,115.3 725.1,113.8 726.1,112.4 727.1,111.0 728.1,109.5 729.1,107.9 730.1,106.2 731.1,104.6 732.1,103.0 733.1,101.4 734.1,100.0 735.1,98.7 736.1,97.6 737.1,96.8 738.1,96.1 739.1,95.4 740.1,94.8 741.1,94.2 742.1,93.4 743.1,92.4 744.1,91.1 745.1,89.6 746.1,88.1 747.1,86.6 748.1,85.0" fill="none" stroke="#ff0000" stroke-width="4.5" stroke-linejoin="round"/>
<path d="M70.5,306.5h6.2v6.2h-6.2zM75.5,286.6h6.2v6.2h-6.2zM80.6,292.8h6.2v6.2h-6.2zM85.6,308.8h6.2v6.2h-6.2zM90.6,335.0h6.2v6.2h-6.2zM95.7,344.0h6.2v6.2h-6.2zM100.7,339.1h6.2v6.2h-6.2zM105.7,350.3h6.2v6.2h-6.2zM110.7,306.6h6.2v6.2h-6.2zM115.8,291.6h6.2v6.2h-6.2zM120.8,349.4h6.2v6.2h-6.2zM125.8,319.8h6.2v6.2h-6.2zM130.9,331.0h6.2v6.2h-6.2zM135.9,340.9h6.2v6.2h-6.2zM140.9,338.1h6.2v6.2h-6.2zM146.0,319.4h6.2v6.2h-6.2zM151.0,293.1h6.2v6.2h-6.2zM156.0,292.5h6.2v6.2h-6.2zM161.1,329.8h6.2v6.2h-6.2zM166.1,308.8h6.2v6.2h-6.2zM171.1,285.9h6.2v6.2h-6.2zM176.2,303.5h6.2v6.2h-6.2zM181.2,333.8h6.2v6.2h-6.2zM186.2,355.1h6.2v6.2h-6.2zM191.2,378.1h6.2v6.2h-6.2zM196.3,329.4h6.2v6.2h-6.2zM201.3,321.3h6.2v6.2h-6.2zM206.3,359.0h6.2v6.2h-6.2zM211.4,369.1h6.2v6.2h-6.2zM216.4,381.9h6.2v6.2h-6.2zM221.4,370.4h6.2v6.2h-6.2zM226.5,372.3h6.2v6.2h-6.2zM231.5,352.9h6.2v6.2h-6.2zM236.5,349.4h6.2v6.2h-6.2zM241.6,305.4h6.2v6.2h-6.2zM246.6,301.0h6.2v6.2h-6.2zM251.6,352.8h6.2v6.2h-6.2zM256.6,376.9h6.2v6.2h-6.2zM261.7,337.8h6.2v6.2h-6.2zM266.7,333.1h6.2v6.2h-6.2zM271.7,332.5h6.2v6.2h-6.2zM276.8,313.1h6.2v6.2h-6.2zM281.8,335.9h6.2v6.2h-6.2zM286.8,330.4h6.2v6.2h-6.2zM291.9,332.9h6.2v6.2h-6.2zM296.9,321.3h6.2v6.2h-6.2zM301.9,294.1h6.2v6.2h-6.2zM307.0,320.4h6.2v6.2h-6.2zM312.0,315.3h6.2v6.2h-6.2zM317.0,353.6h6.2v6.2h-6.2zM322.0,306.0h6.2v6.2h-6.2zM327.1,290.0h6.2v6.2h-6.2zM332.1,306.3h6.2v6.2h-6.2zM337.1,335.5h6.2v6.2h-6.2zM342.2,298.8h6.2v6.2h-6.2zM347.2,315.9h6.2v6.2h-6.2zM352.2,304.4h6.2v6.2h-6.2zM357.3,275.4h6.2v6.2h-6.2zM362.3,269.6h6.2v6.2h-6.2zM367.3,273.1h6.2v6.2h-6.2zM372.4,239.2h6.2v6.2h-6.2zM377.4,225.0h6.2v6.2h-6.2zM382.4,252.9h6.2v6.2h-6.2zM387.5,248.2h6.2v6.2h-6.2zM392.5,221.3h6.2v6.2h-6.2zM397.5,247.9h6.2v6.2h-6.2zM402.5,286.9h6.2v6.2h-6.2zM407.6,275.4h6.2v6.2h-6.2zM412.6,294.7h6.2v6.2h-6.2zM417.6,295.3h6.2v6.2h-6.2zM422.7,310.3h6.2v6.2h-6.2zM427.7,285.4h6.2v6.2h-6.2zM432.7,266.5h6.2v6.2h-6.2zM437.8,250.7h6.2v6.2h-6.2zM442.8,300.4h6.2v6.2h-6.2zM447.8,302.5h6.2v6.2h-6.2zM452.9,313.8h6.2v6.2h-6.2zM457.9,258.4h6.2v6.2h-6.2zM462.9,254.4h6.2v6.2h-6.2zM467.9,261.9h6.2v6.2h-6.2zM473.0,274.6h6.2v6.2h-6.2zM478.0,255.0h6.2v6.2h-6.2zM483.0,260.9h6.2v6.2h-6.2zM488.1,256.6h6.2v6.2h-6.2zM493.1,316.6h6.2v6.2h-6.2zM498.1,294.8h6.2v6.2h-6.2zM503.2,282.9h6.2v6.2h-6.2zM508.2,274.4h6.2v6.2h-6.2zM513.2,288.1h6.2v6.2h-6.2zM518.3,256.1h6.2v6.2h-6.2zM523.3,263.5h6.2v6.2h-6.2zM528.3,288.8h6.2v6.2h-6.2zM533.4,267.1h6.2v6.2h-6.2zM538.4,231.3h6.2v6.2h-6.2zM543.4,286.0h6.2v6.2h-6.2zM548.4,272.8h6.2v6.2h-6.2zM553.5,292.9h6.2v6.2h-6.2zM558.5,227.8h6.2v6.2h-6.2zM563.5,253.7h6.2v6.2h-6.2zM568.6,231.0h6.2v6.2h-6.2zM573.6,208.1h6.2v6.2h-6.2zM578.6,194.0h6.2v6.2h-6.2zM583.7,237.3h6.2v6.2h-6.2zM588.7,197.2h6.2v6.2h-6.2zM593.7,232.8h6.2v6.2h-6.2zM598.8,242.3h6.2v6.2h-6.2zM603.8,226.9h6.2v6.2h-6.2zM608.8,194.4h6.2v6.2h-6.2zM613.8,179.3h6.2v6.2h-6.2zM618.9,205.7h6.2v6.2h-6.2zM623.9,164.0h6.2v6.2h-6.2zM628.9,174.9h6.2v6.2h-6.2zM634.0,218.2h6.2v6.2h-6.2zM639.0,215.0h6.2v6.2h-6.2zM644.0,195.3h6.2v6.2h-6.2zM649.1,165.0h6.2v6.2h-6.2zM654.1,193.2h6.2v6.2h-6.2zM659.1,159.8h6.2v6.2h-6.2zM664.2,126.3h6.2v6.2h-6.2zM669.2,179.3h6.2v6.2h-6.2zM674.2,177.5h6.2v6.2h-6.2zM679.3,143.2h6.2v6.2h-6.2zM684.3,122.8h6.2v6.2h-6.2zM689.3,123.5h6.2v6.2h-6.2zM694.3,143.2h6.2v6.2h-6.2zM699.4,109.8h6.2v6.2h-6.2zM704.4,119.4h6.2v6.2h-6.2zM709.4,114.3h6.2v6.2h-6.2zM714.5,141.9h6.2v6.2h-6.2zM719.5,115.0h6.2v6.2h-6.2zM724.5,99.0h6.2v6.2h-6.2zM729.6,127.2h6.2v6.2h-6.2zM734.6,118.5h6.2v6.2h-6.2zM739.6,108.4h6.2v6.2h-6.2zM744.7,95.6h6.2v6.2h-6.2zM749.7,57.8h6.2v6.2h-6.2zM754.7,30.6h6.2v6.2h-6.2zM759.7,52.5h6.2v6.2h-6.2zM764.8,69.4h6.2v6.2h-6.2zM769.8,38.8h6.2v6.2h-6.2z" fill="#000"/>
<line x1="524.5" y1="280.5" x2="780.6" y2="69.4" stroke="#22c010" stroke-width="4.3"/>
<line x1="710" y1="102.5" x2="774" y2="31" stroke="#960000" stroke-width="2.7"/>
<path d="M710.0,97.0L710.0,108.0M705.2,99.8L714.8,105.2M714.8,99.8L705.2,105.2M774.0,25.5L774.0,36.5M769.2,28.2L778.8,33.8M778.8,28.2L769.2,33.8" stroke="#960000" stroke-width="2.4" fill="none"/>
</g>
<g fill="#fff">
<rect x="100" y="33" width="326" height="27"/>
<rect x="100" y="60" width="372" height="26"/>
<rect x="100" y="86" width="326" height="27"/>
<rect x="100" y="113" width="358" height="26"/>
<rect x="204" y="142" width="188" height="24"/>
<rect x="100" y="166" width="392" height="26"/>
</g>
<line x1="106.3" y1="45.9" x2="167.9" y2="45.9" stroke="#4090ff" stroke-width="3.3"/>
<line x1="106.3" y1="72.4" x2="167.9" y2="72.4" stroke="#ff0000" stroke-width="6.4"/>
<rect x="149" y="95.8" width="6" height="6" fill="#000"/>
<line x1="106.3" y1="125.5" x2="167.9" y2="125.5" stroke="#22c010" stroke-width="5.4"/>
<line x1="106.3" y1="178.8" x2="167.9" y2="178.8" stroke="#960000" stroke-width="3.3"/>
<path d="M136.8,173.5L136.8,184.1M132.2,176.2L141.4,181.5M141.4,176.2L132.2,181.5" stroke="#960000" stroke-width="2.2" fill="none"/>
<text x="174.2" y="53" font-size="22.6" text-anchor="start" textLength="250.3" lengthAdjust="spacingAndGlyphs">12−month Running Mean</text>
<text x="174.2" y="79.5" font-size="22.6" text-anchor="start" textLength="262.8" lengthAdjust="spacingAndGlyphs">132−month Running Mean</text>
<text x="174.2" y="106" font-size="22.6" text-anchor="start" textLength="249.5" lengthAdjust="spacingAndGlyphs">January−December Mean</text>
<text x="174.2" y="132.5" font-size="22.6" text-anchor="start" textLength="278.3" lengthAdjust="spacingAndGlyphs">Best Linear Fit (1970−2019)</text>
<text x="207" y="159" font-size="22.6" text-anchor="start" textLength="157.5" lengthAdjust="spacingAndGlyphs">(0.18°C/decade)</text>
<text x="174.2" y="185.5" font-size="22.6" text-anchor="start" textLength="314.3" lengthAdjust="spacingAndGlyphs">Connecting Nino Mini−Maxima</text>
<text x="207" y="212" font-size="22.6" text-anchor="start" textLength="157.5" lengthAdjust="spacingAndGlyphs">(0.24°C/decade)</text>
<rect x="638" y="19.5" width="80" height="45.5" fill="#fff"/>
<text x="650.6" y="37.25" font-size="22.6" text-anchor="start" textLength="50.5" lengthAdjust="spacingAndGlyphs">Super</text>
<text x="640" y="62.2" font-size="22.6" text-anchor="start" textLength="77" lengthAdjust="spacingAndGlyphs">El Ninos</text>
<g stroke="#0a0a14" stroke-width="1.2" fill="none">
<path d="M672.7,88L667.9,110M662,103.7L667.8,110.5L674.7,105.3"/>
<path d="M730.6,31L753.6,26.6M746.2,21.7L754,26.5L748.2,34.6"/>
</g>
<path d="M71.4,400V5.75H780.6V400" stroke="#000" stroke-width="2.05" fill="none"/>
<path d="M171.5,5.75v9M171.5,400v-4M272.3,5.75v9M272.3,400v-4M373.2,5.75v9M373.2,400v-4M474.0,5.75v9M474.0,400v-4M574.8,5.75v9M574.8,400v-4M675.7,5.75v9M675.7,400v-4M776.5,5.75v9M776.5,400v-4M71.4,53.51h9.3M780.6,53.51h-9.3M71.4,100.40h9.3M780.6,100.40h-9.3M71.4,147.29h9.3M780.6,147.29h-9.3M71.4,194.18h9.3M780.6,194.18h-9.3M71.4,241.07h9.3M780.6,241.07h-9.3M71.4,287.96h9.3M780.6,287.96h-9.3M71.4,334.85h9.3M780.6,334.85h-9.3M71.4,381.74h9.3M780.6,381.74h-9.3" stroke="#1a1a1a" stroke-width="1.1" fill="none"/>
<text x="37.0" y="12.8" font-size="22.6" textLength="27.0" lengthAdjust="spacingAndGlyphs">1.4</text>
<text x="37.0" y="59.7" font-size="22.6" textLength="27.0" lengthAdjust="spacingAndGlyphs">1.2</text>
<text x="37.0" y="106.6" font-size="22.6" textLength="27.0" lengthAdjust="spacingAndGlyphs">1.0</text>
<text x="47.8" y="153.5" font-size="22.6" textLength="16.2" lengthAdjust="spacingAndGlyphs">.8</text>
<text x="47.8" y="200.4" font-size="22.6" textLength="16.2" lengthAdjust="spacingAndGlyphs">.6</text>
<text x="47.8" y="247.3" font-size="22.6" textLength="16.2" lengthAdjust="spacingAndGlyphs">.4</text>
<text x="47.8" y="294.2" font-size="22.6" textLength="16.2" lengthAdjust="spacingAndGlyphs">.2</text>
<text x="47.8" y="341.1" font-size="22.6" textLength="16.2" lengthAdjust="spacingAndGlyphs">0.</text>
<text x="34.5" y="387.9" font-size="22.6" textLength="29.5" lengthAdjust="spacingAndGlyphs">−.2</text>
<text transform="translate(21.5,358) rotate(-90)" font-size="22.6" textLength="278" lengthAdjust="spacingAndGlyphs">Temperature Anomaly (°C)</text>
</svg></body></html>
